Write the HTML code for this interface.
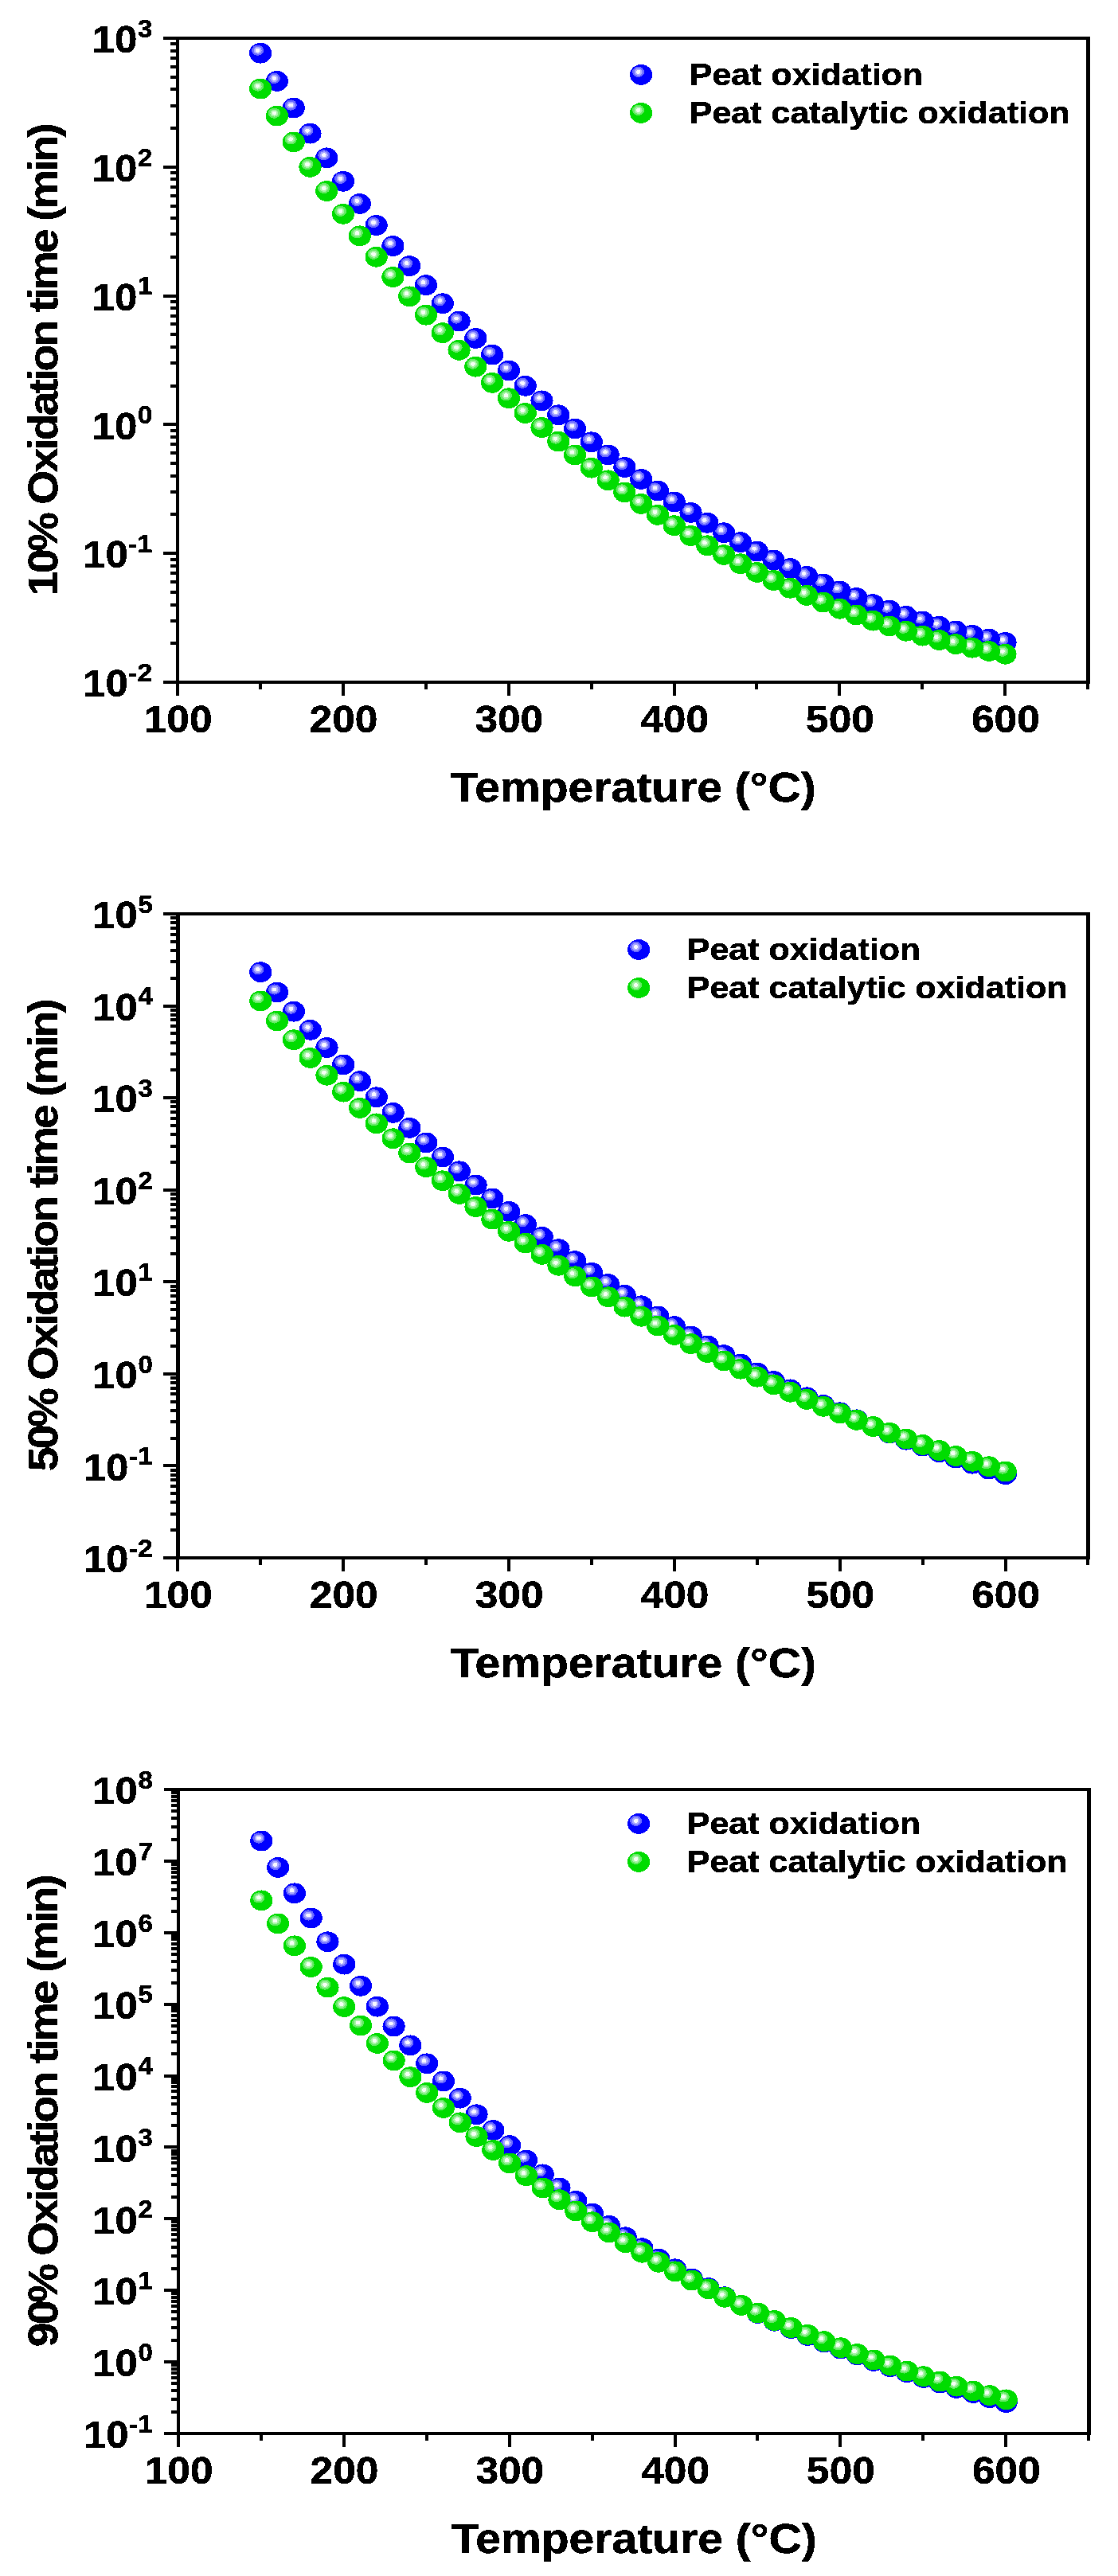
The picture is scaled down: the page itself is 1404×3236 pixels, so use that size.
<!DOCTYPE html>
<html lang="en"><head><meta charset="utf-8"><title>Peat oxidation time vs temperature</title>
<style>html,body{margin:0;padding:0;background:#fff}body{width:1404px;height:3236px;overflow:hidden}svg{display:block}text{font-family:"Liberation Sans",sans-serif;font-weight:bold;fill:#000;stroke:#000;stroke-width:0.5px}</style></head><body>
<svg width="1404" height="3236" viewBox="0 0 1404 3236">
<rect width="1404" height="3236" fill="#fff"/>
<defs>
<g id="mb" shape-rendering="crispEdges"><ellipse rx="14.1" ry="12.9" fill="#0000ff"/><ellipse cx="-3.5" cy="-3.5" rx="7.5" ry="6.6" fill="#6c6cff"/><ellipse cx="-3.5" cy="-3.5" rx="5" ry="4.5" fill="#aaaaff"/><ellipse cx="-3.5" cy="-3.5" rx="2.8" ry="2.5" fill="#f8f8ff"/></g>
<g id="mg" shape-rendering="crispEdges"><ellipse rx="14.1" ry="12.9" fill="#00dc00"/><ellipse cx="-3.5" cy="-3.5" rx="7.5" ry="6.6" fill="#66ea66"/><ellipse cx="-3.5" cy="-3.5" rx="5" ry="4.5" fill="#a8f3a8"/><ellipse cx="-3.5" cy="-3.5" rx="2.8" ry="2.5" fill="#f6fff6"/></g>
<filter id="nf" x="0" y="0" width="100%" height="100%" filterUnits="userSpaceOnUse" color-interpolation-filters="sRGB"><feComponentTransfer><feFuncA type="discrete" tableValues="0 1"/></feComponentTransfer></filter>
</defs>
<g>
<use href="#mb" x="1262.47" y="807.05"/>
<use href="#mb" x="1241.69" y="802.63"/>
<use href="#mb" x="1220.9" y="797.77"/>
<use href="#mb" x="1200.12" y="792.46"/>
<use href="#mb" x="1179.33" y="786.7"/>
<use href="#mb" x="1158.55" y="780.49"/>
<use href="#mb" x="1137.76" y="773.81"/>
<use href="#mb" x="1116.97" y="766.68"/>
<use href="#mb" x="1096.19" y="759.08"/>
<use href="#mb" x="1075.4" y="751.01"/>
<use href="#mb" x="1054.62" y="742.47"/>
<use href="#mb" x="1033.83" y="733.45"/>
<use href="#mb" x="1013.05" y="723.96"/>
<use href="#mb" x="992.26" y="713.98"/>
<use href="#mb" x="971.48" y="703.53"/>
<use href="#mb" x="950.69" y="692.58"/>
<use href="#mb" x="929.91" y="681.15"/>
<use href="#mb" x="909.12" y="669.22"/>
<use href="#mb" x="888.33" y="656.8"/>
<use href="#mb" x="867.55" y="643.87"/>
<use href="#mb" x="846.76" y="630.43"/>
<use href="#mb" x="825.98" y="616.47"/>
<use href="#mb" x="805.19" y="601.99"/>
<use href="#mb" x="784.41" y="586.97"/>
<use href="#mb" x="763.62" y="571.41"/>
<use href="#mb" x="742.84" y="555.28"/>
<use href="#mb" x="722.05" y="538.57"/>
<use href="#mb" x="701.27" y="521.27"/>
<use href="#mb" x="680.48" y="503.35"/>
<use href="#mb" x="659.69" y="484.79"/>
<use href="#mb" x="638.91" y="465.55"/>
<use href="#mb" x="618.12" y="445.62"/>
<use href="#mb" x="597.34" y="424.95"/>
<use href="#mb" x="576.55" y="403.5"/>
<use href="#mb" x="555.77" y="381.24"/>
<use href="#mb" x="534.98" y="358.12"/>
<use href="#mb" x="514.2" y="334.08"/>
<use href="#mb" x="493.41" y="309.08"/>
<use href="#mb" x="472.63" y="283.07"/>
<use href="#mb" x="451.84" y="255.98"/>
<use href="#mb" x="431.05" y="227.76"/>
<use href="#mb" x="410.27" y="198.33"/>
<use href="#mb" x="389.48" y="167.62"/>
<use href="#mb" x="368.7" y="135.54"/>
<use href="#mb" x="347.91" y="101.96"/>
<use href="#mb" x="327.13" y="66.69"/>
<use href="#mg" x="1262.47" y="821.71"/>
<use href="#mg" x="1241.69" y="817.9"/>
<use href="#mg" x="1220.9" y="813.69"/>
<use href="#mg" x="1200.12" y="809.09"/>
<use href="#mg" x="1179.33" y="804.06"/>
<use href="#mg" x="1158.55" y="798.62"/>
<use href="#mg" x="1137.76" y="792.74"/>
<use href="#mg" x="1116.97" y="786.42"/>
<use href="#mg" x="1096.19" y="779.65"/>
<use href="#mg" x="1075.4" y="772.42"/>
<use href="#mg" x="1054.62" y="764.72"/>
<use href="#mg" x="1033.83" y="756.55"/>
<use href="#mg" x="1013.05" y="747.89"/>
<use href="#mg" x="992.26" y="738.73"/>
<use href="#mg" x="971.48" y="729.08"/>
<use href="#mg" x="950.69" y="718.91"/>
<use href="#mg" x="929.91" y="708.23"/>
<use href="#mg" x="909.12" y="697.02"/>
<use href="#mg" x="888.33" y="685.29"/>
<use href="#mg" x="867.55" y="673.01"/>
<use href="#mg" x="846.76" y="660.19"/>
<use href="#mg" x="825.98" y="646.82"/>
<use href="#mg" x="805.19" y="632.89"/>
<use href="#mg" x="784.41" y="618.4"/>
<use href="#mg" x="763.62" y="603.33"/>
<use href="#mg" x="742.84" y="587.67"/>
<use href="#mg" x="722.05" y="571.43"/>
<use href="#mg" x="701.27" y="554.58"/>
<use href="#mg" x="680.48" y="537.11"/>
<use href="#mg" x="659.69" y="519.01"/>
<use href="#mg" x="638.91" y="500.26"/>
<use href="#mg" x="618.12" y="480.83"/>
<use href="#mg" x="597.34" y="460.69"/>
<use href="#mg" x="576.55" y="439.82"/>
<use href="#mg" x="555.77" y="418.17"/>
<use href="#mg" x="534.98" y="395.7"/>
<use href="#mg" x="514.2" y="372.35"/>
<use href="#mg" x="493.41" y="348.05"/>
<use href="#mg" x="472.63" y="322.75"/>
<use href="#mg" x="451.84" y="296.35"/>
<use href="#mg" x="431.05" y="268.79"/>
<use href="#mg" x="410.27" y="239.98"/>
<use href="#mg" x="389.48" y="209.86"/>
<use href="#mg" x="368.7" y="178.39"/>
<use href="#mg" x="347.91" y="145.59"/>
<use href="#mg" x="327.13" y="111.56"/>
<path d="M221 46H1369V50H221ZM221 855H1369V859H221ZM221 46H225V859H221ZM1364 46H1369V859H1364ZM205 855H222V859H205ZM214 806H222V810H214ZM214 778H222V782H214ZM214 758H222V762H214ZM214 742H222V746H214ZM214 729H222V733H214ZM214 718H222V722H214ZM214 709H222V713H214ZM214 701H222V705H214ZM205 693H222V697H205ZM214 644H222V648H214ZM214 616H222V620H214ZM214 596H222V600H214ZM214 580H222V584H214ZM214 567H222V571H214ZM214 556H222V560H214ZM214 547H222V551H214ZM214 539H222V543H214ZM205 531H222V535H205ZM214 483H222V487H214ZM214 454H222V458H214ZM214 434H222V438H214ZM214 418H222V422H214ZM214 405H222V409H214ZM214 395H222V399H214ZM214 385H222V389H214ZM214 377H222V381H214ZM205 370H222V374H205ZM214 321H222V325H214ZM214 292H222V296H214ZM214 272H222V276H214ZM214 257H222V261H214ZM214 244H222V248H214ZM214 233H222V237H214ZM214 223H222V227H214ZM214 215H222V219H214ZM205 208H222V212H205ZM214 159H222V163H214ZM214 131H222V135H214ZM214 110H222V114H214ZM214 95H222V99H214ZM214 82H222V86H214ZM214 71H222V75H214ZM214 62H222V66H214ZM214 53H222V57H214ZM205 46H222V50H205ZM221 857H225V874H221ZM325 857H329V866H325ZM429 857H433V874H429ZM533 857H537V866H533ZM637 857H641V874H637ZM741 857H745V866H741ZM845 857H849V874H845ZM948 857H952V866H948ZM1052 857H1056V874H1052ZM1156 857H1160V866H1156ZM1260 857H1264V874H1260ZM1364 857H1368V866H1364Z" fill="#000" shape-rendering="crispEdges"/>
<use href="#mb" x="805.1" y="93.9"/><use href="#mg" x="805.1" y="141.9"/>
</g>
<g>
<use href="#mb" x="1262.67" y="1852.21"/>
<use href="#mb" x="1241.89" y="1845.57"/>
<use href="#mb" x="1221.1" y="1838.69"/>
<use href="#mb" x="1200.32" y="1831.57"/>
<use href="#mb" x="1179.53" y="1824.2"/>
<use href="#mb" x="1158.75" y="1816.57"/>
<use href="#mb" x="1137.96" y="1808.68"/>
<use href="#mb" x="1117.17" y="1800.51"/>
<use href="#mb" x="1096.39" y="1792.07"/>
<use href="#mb" x="1075.6" y="1783.33"/>
<use href="#mb" x="1054.82" y="1774.3"/>
<use href="#mb" x="1034.03" y="1764.97"/>
<use href="#mb" x="1013.25" y="1755.32"/>
<use href="#mb" x="992.46" y="1745.35"/>
<use href="#mb" x="971.68" y="1735.06"/>
<use href="#mb" x="950.89" y="1724.44"/>
<use href="#mb" x="930.11" y="1713.48"/>
<use href="#mb" x="909.32" y="1702.17"/>
<use href="#mb" x="888.53" y="1690.51"/>
<use href="#mb" x="867.75" y="1678.5"/>
<use href="#mb" x="846.96" y="1666.13"/>
<use href="#mb" x="826.18" y="1653.39"/>
<use href="#mb" x="805.39" y="1640.29"/>
<use href="#mb" x="784.61" y="1626.81"/>
<use href="#mb" x="763.82" y="1612.97"/>
<use href="#mb" x="743.04" y="1598.74"/>
<use href="#mb" x="722.25" y="1584.14"/>
<use href="#mb" x="701.47" y="1569.16"/>
<use href="#mb" x="680.68" y="1553.81"/>
<use href="#mb" x="659.89" y="1538.07"/>
<use href="#mb" x="639.11" y="1521.95"/>
<use href="#mb" x="618.32" y="1505.44"/>
<use href="#mb" x="597.54" y="1488.55"/>
<use href="#mb" x="576.75" y="1471.26"/>
<use href="#mb" x="555.97" y="1453.56"/>
<use href="#mb" x="535.18" y="1435.44"/>
<use href="#mb" x="514.4" y="1416.88"/>
<use href="#mb" x="493.61" y="1397.84"/>
<use href="#mb" x="472.83" y="1378.29"/>
<use href="#mb" x="452.04" y="1358.19"/>
<use href="#mb" x="431.25" y="1337.46"/>
<use href="#mb" x="410.47" y="1316.03"/>
<use href="#mb" x="389.68" y="1293.8"/>
<use href="#mb" x="368.9" y="1270.67"/>
<use href="#mb" x="348.11" y="1246.5"/>
<use href="#mb" x="327.33" y="1221.19"/>
<use href="#mg" x="1262.67" y="1848.54"/>
<use href="#mg" x="1241.89" y="1842.25"/>
<use href="#mg" x="1221.1" y="1835.75"/>
<use href="#mg" x="1200.32" y="1829.02"/>
<use href="#mg" x="1179.53" y="1822.07"/>
<use href="#mg" x="1158.75" y="1814.89"/>
<use href="#mg" x="1137.96" y="1807.48"/>
<use href="#mg" x="1117.17" y="1799.84"/>
<use href="#mg" x="1096.39" y="1791.95"/>
<use href="#mg" x="1075.6" y="1783.82"/>
<use href="#mg" x="1054.82" y="1775.44"/>
<use href="#mg" x="1034.03" y="1766.81"/>
<use href="#mg" x="1013.25" y="1757.93"/>
<use href="#mg" x="992.46" y="1748.78"/>
<use href="#mg" x="971.68" y="1739.36"/>
<use href="#mg" x="950.89" y="1729.68"/>
<use href="#mg" x="930.11" y="1719.71"/>
<use href="#mg" x="909.32" y="1709.47"/>
<use href="#mg" x="888.53" y="1698.93"/>
<use href="#mg" x="867.75" y="1688.1"/>
<use href="#mg" x="846.96" y="1676.97"/>
<use href="#mg" x="826.18" y="1665.52"/>
<use href="#mg" x="805.39" y="1653.75"/>
<use href="#mg" x="784.61" y="1641.66"/>
<use href="#mg" x="763.82" y="1629.22"/>
<use href="#mg" x="743.04" y="1616.44"/>
<use href="#mg" x="722.25" y="1603.29"/>
<use href="#mg" x="701.47" y="1589.77"/>
<use href="#mg" x="680.68" y="1575.85"/>
<use href="#mg" x="659.89" y="1561.54"/>
<use href="#mg" x="639.11" y="1546.8"/>
<use href="#mg" x="618.32" y="1531.63"/>
<use href="#mg" x="597.54" y="1516"/>
<use href="#mg" x="576.75" y="1499.89"/>
<use href="#mg" x="555.97" y="1483.29"/>
<use href="#mg" x="535.18" y="1466.16"/>
<use href="#mg" x="514.4" y="1448.48"/>
<use href="#mg" x="493.61" y="1430.23"/>
<use href="#mg" x="472.83" y="1411.36"/>
<use href="#mg" x="452.04" y="1391.85"/>
<use href="#mg" x="431.25" y="1371.65"/>
<use href="#mg" x="410.47" y="1350.7"/>
<use href="#mg" x="389.68" y="1328.93"/>
<use href="#mg" x="368.9" y="1306.24"/>
<use href="#mg" x="348.11" y="1282.48"/>
<use href="#mg" x="327.33" y="1257.44"/>
<path d="M221 1146H1369V1150H221ZM221 1955H1369V1959H221ZM221 1146H226V1959H221ZM1364 1146H1369V1959H1364ZM205 1955H222V1959H205ZM214 1920H222V1924H214ZM214 1900H222V1904H214ZM214 1885H222V1889H214ZM214 1874H222V1878H214ZM214 1865H222V1869H214ZM214 1857H222V1861H214ZM214 1851H222V1855H214ZM214 1845H222V1849H214ZM205 1839H222V1843H205ZM214 1805H222V1809H214ZM214 1784H222V1788H214ZM214 1770H222V1774H214ZM214 1759H222V1763H214ZM214 1749H222V1753H214ZM214 1742H222V1746H214ZM214 1735H222V1739H214ZM214 1729H222V1733H214ZM205 1724H222V1728H205ZM214 1689H222V1693H214ZM214 1669H222V1673H214ZM214 1654H222V1658H214ZM214 1643H222V1647H214ZM214 1634H222V1638H214ZM214 1626H222V1630H214ZM214 1619H222V1623H214ZM214 1614H222V1618H214ZM205 1608H222V1612H205ZM214 1573H222V1577H214ZM214 1553H222V1557H214ZM214 1539H222V1543H214ZM214 1528H222V1532H214ZM214 1518H222V1522H214ZM214 1511H222V1515H214ZM214 1504H222V1508H214ZM214 1498H222V1502H214ZM205 1493H222V1497H205ZM214 1458H222V1462H214ZM214 1438H222V1442H214ZM214 1423H222V1427H214ZM214 1412H222V1416H214ZM214 1403H222V1407H214ZM214 1395H222V1399H214ZM214 1388H222V1392H214ZM214 1382H222V1386H214ZM205 1377H222V1381H205ZM214 1342H222V1346H214ZM214 1322H222V1326H214ZM214 1308H222V1312H214ZM214 1296H222V1300H214ZM214 1287H222V1291H214ZM214 1279H222V1283H214ZM214 1273H222V1277H214ZM214 1267H222V1271H214ZM205 1262H222V1266H205ZM214 1227H222V1231H214ZM214 1206H222V1210H214ZM214 1192H222V1196H214ZM214 1181H222V1185H214ZM214 1172H222V1176H214ZM214 1164H222V1168H214ZM214 1157H222V1161H214ZM214 1151H222V1155H214ZM205 1146H222V1150H205ZM221 1957H225V1974H221ZM325 1957H329V1966H325ZM429 1957H433V1974H429ZM533 1957H537V1966H533ZM637 1957H641V1974H637ZM741 1957H745V1966H741ZM845 1957H849V1974H845ZM949 1957H953V1966H949ZM1053 1957H1057V1974H1053ZM1157 1957H1161V1966H1157ZM1261 1957H1265V1974H1261ZM1364 1957H1368V1966H1364Z" fill="#000" shape-rendering="crispEdges"/>
<use href="#mb" x="802.1" y="1193"/><use href="#mg" x="802.1" y="1241"/>
</g>
<g>
<use href="#mb" x="1263.67" y="3018.01"/>
<use href="#mb" x="1242.89" y="3012.09"/>
<use href="#mb" x="1222.1" y="3006.04"/>
<use href="#mb" x="1201.32" y="2999.85"/>
<use href="#mb" x="1180.53" y="2993.49"/>
<use href="#mb" x="1159.75" y="2986.94"/>
<use href="#mb" x="1138.96" y="2980.18"/>
<use href="#mb" x="1118.17" y="2973.19"/>
<use href="#mb" x="1097.39" y="2965.94"/>
<use href="#mb" x="1076.6" y="2958.42"/>
<use href="#mb" x="1055.82" y="2950.59"/>
<use href="#mb" x="1035.03" y="2942.43"/>
<use href="#mb" x="1014.25" y="2933.93"/>
<use href="#mb" x="993.46" y="2925.04"/>
<use href="#mb" x="972.68" y="2915.76"/>
<use href="#mb" x="951.89" y="2906.05"/>
<use href="#mb" x="931.11" y="2895.88"/>
<use href="#mb" x="910.32" y="2885.25"/>
<use href="#mb" x="889.53" y="2874.12"/>
<use href="#mb" x="868.75" y="2862.47"/>
<use href="#mb" x="847.96" y="2850.28"/>
<use href="#mb" x="827.18" y="2837.54"/>
<use href="#mb" x="806.39" y="2824.22"/>
<use href="#mb" x="785.61" y="2810.3"/>
<use href="#mb" x="764.82" y="2795.78"/>
<use href="#mb" x="744.04" y="2780.63"/>
<use href="#mb" x="723.25" y="2764.85"/>
<use href="#mb" x="702.47" y="2748.43"/>
<use href="#mb" x="681.68" y="2731.35"/>
<use href="#mb" x="660.89" y="2713.6"/>
<use href="#mb" x="640.11" y="2695.18"/>
<use href="#mb" x="619.32" y="2676.07"/>
<use href="#mb" x="598.54" y="2656.25"/>
<use href="#mb" x="577.75" y="2635.7"/>
<use href="#mb" x="556.97" y="2614.4"/>
<use href="#mb" x="536.18" y="2592.3"/>
<use href="#mb" x="515.4" y="2569.36"/>
<use href="#mb" x="494.61" y="2545.51"/>
<use href="#mb" x="473.83" y="2520.67"/>
<use href="#mb" x="453.04" y="2494.75"/>
<use href="#mb" x="432.25" y="2467.64"/>
<use href="#mb" x="411.47" y="2439.25"/>
<use href="#mb" x="390.68" y="2409.49"/>
<use href="#mb" x="369.9" y="2378.34"/>
<use href="#mb" x="349.11" y="2345.92"/>
<use href="#mb" x="328.33" y="2312.53"/>
<use href="#mg" x="1263.67" y="3014.4"/>
<use href="#mg" x="1242.89" y="3009.07"/>
<use href="#mg" x="1222.1" y="3003.48"/>
<use href="#mg" x="1201.32" y="2997.65"/>
<use href="#mg" x="1180.53" y="2991.55"/>
<use href="#mg" x="1159.75" y="2985.2"/>
<use href="#mg" x="1138.96" y="2978.57"/>
<use href="#mg" x="1118.17" y="2971.67"/>
<use href="#mg" x="1097.39" y="2964.48"/>
<use href="#mg" x="1076.6" y="2957"/>
<use href="#mg" x="1055.82" y="2949.22"/>
<use href="#mg" x="1035.03" y="2941.14"/>
<use href="#mg" x="1014.25" y="2932.74"/>
<use href="#mg" x="993.46" y="2924.03"/>
<use href="#mg" x="972.68" y="2914.98"/>
<use href="#mg" x="951.89" y="2905.6"/>
<use href="#mg" x="931.11" y="2895.88"/>
<use href="#mg" x="910.32" y="2885.8"/>
<use href="#mg" x="889.53" y="2875.36"/>
<use href="#mg" x="868.75" y="2864.55"/>
<use href="#mg" x="847.96" y="2853.35"/>
<use href="#mg" x="827.18" y="2841.76"/>
<use href="#mg" x="806.39" y="2829.76"/>
<use href="#mg" x="785.61" y="2817.35"/>
<use href="#mg" x="764.82" y="2804.5"/>
<use href="#mg" x="744.04" y="2791.21"/>
<use href="#mg" x="723.25" y="2777.45"/>
<use href="#mg" x="702.47" y="2763.2"/>
<use href="#mg" x="681.68" y="2748.46"/>
<use href="#mg" x="660.89" y="2733.19"/>
<use href="#mg" x="640.11" y="2717.37"/>
<use href="#mg" x="619.32" y="2700.97"/>
<use href="#mg" x="598.54" y="2683.96"/>
<use href="#mg" x="577.75" y="2666.31"/>
<use href="#mg" x="556.97" y="2647.98"/>
<use href="#mg" x="536.18" y="2628.93"/>
<use href="#mg" x="515.4" y="2609.11"/>
<use href="#mg" x="494.61" y="2588.46"/>
<use href="#mg" x="473.83" y="2566.95"/>
<use href="#mg" x="453.04" y="2544.5"/>
<use href="#mg" x="432.25" y="2521.07"/>
<use href="#mg" x="411.47" y="2496.59"/>
<use href="#mg" x="390.68" y="2471.01"/>
<use href="#mg" x="369.9" y="2444.3"/>
<use href="#mg" x="349.11" y="2416.42"/>
<use href="#mg" x="328.33" y="2387.39"/>
<path d="M222 2246H1370V2250H222ZM222 3055H1370V3059H222ZM222 2246H226V3059H222ZM1365 2246H1370V3059H1365ZM206 3055H223V3059H206ZM215 3028H223V3032H215ZM215 3012H223V3016H215ZM215 3001H223V3005H215ZM215 2992H223V2996H215ZM215 2985H223V2989H215ZM215 2979H223V2983H215ZM215 2974H223V2978H215ZM215 2969H223V2973H215ZM206 2965H223V2969H206ZM215 2938H223V2942H215ZM215 2922H223V2926H215ZM215 2911H223V2915H215ZM215 2902H223V2906H215ZM215 2895H223V2899H215ZM215 2889H223V2893H215ZM215 2884H223V2888H215ZM215 2879H223V2883H215ZM206 2875H223V2879H206ZM215 2848H223V2852H215ZM215 2832H223V2836H215ZM215 2821H223V2825H215ZM215 2812H223V2816H215ZM215 2805H223V2809H215ZM215 2799H223V2803H215ZM215 2794H223V2798H215ZM215 2789H223V2793H215ZM206 2785H223V2789H206ZM215 2758H223V2762H215ZM215 2742H223V2746H215ZM215 2731H223V2735H215ZM215 2723H223V2727H215ZM215 2715H223V2719H215ZM215 2709H223V2713H215ZM215 2704H223V2708H215ZM215 2700H223V2704H215ZM206 2695H223V2699H206ZM215 2668H223V2672H215ZM215 2653H223V2657H215ZM215 2641H223V2645H215ZM215 2633H223V2637H215ZM215 2625H223V2629H215ZM215 2619H223V2623H215ZM215 2614H223V2618H215ZM215 2610H223V2614H215ZM206 2606H223V2610H206ZM215 2578H223V2582H215ZM215 2563H223V2567H215ZM215 2551H223V2555H215ZM215 2543H223V2547H215ZM215 2536H223V2540H215ZM215 2530H223V2534H215ZM215 2524H223V2528H215ZM215 2520H223V2524H215ZM206 2516H223V2520H206ZM215 2489H223V2493H215ZM215 2473H223V2477H215ZM215 2462H223V2466H215ZM215 2453H223V2457H215ZM215 2446H223V2450H215ZM215 2440H223V2444H215ZM215 2434H223V2438H215ZM215 2430H223V2434H215ZM206 2426H223V2430H206ZM215 2399H223V2403H215ZM215 2383H223V2387H215ZM215 2372H223V2376H215ZM215 2363H223V2367H215ZM215 2356H223V2360H215ZM215 2350H223V2354H215ZM215 2345H223V2349H215ZM215 2340H223V2344H215ZM206 2336H223V2340H206ZM215 2309H223V2313H215ZM215 2293H223V2297H215ZM215 2282H223V2286H215ZM215 2273H223V2277H215ZM215 2266H223V2270H215ZM215 2260H223V2264H215ZM215 2255H223V2259H215ZM215 2250H223V2254H215ZM206 2246H223V2250H206ZM222 3057H226V3074H222ZM326 3057H330V3066H326ZM430 3057H434V3074H430ZM534 3057H538V3066H534ZM638 3057H642V3074H638ZM742 3057H746V3066H742ZM846 3057H850V3074H846ZM949 3057H953V3066H949ZM1053 3057H1057V3074H1053ZM1157 3057H1161V3066H1157ZM1261 3057H1265V3074H1261ZM1365 3057H1369V3066H1365Z" fill="#000" shape-rendering="crispEdges"/>
<use href="#mb" x="802.1" y="2290.9"/><use href="#mg" x="802.1" y="2338.9"/>
</g>
<g filter="url(#nf)">
<text x="104.3" y="875.2" font-size="47.5" textLength="56.6" lengthAdjust="spacingAndGlyphs">10</text>
<text x="161.3" y="855.8" font-size="31.3" textLength="30" lengthAdjust="spacingAndGlyphs">-2</text>
<text x="104.3" y="713.4" font-size="47.5" textLength="56.6" lengthAdjust="spacingAndGlyphs">10</text>
<text x="161.3" y="694" font-size="31.3" textLength="30" lengthAdjust="spacingAndGlyphs">-1</text>
<text x="115.6" y="551.6" font-size="47.5" textLength="56.6" lengthAdjust="spacingAndGlyphs">10</text>
<text x="173" y="532.2" font-size="31.3" textLength="18.3" lengthAdjust="spacingAndGlyphs">0</text>
<text x="115.6" y="389.8" font-size="47.5" textLength="56.6" lengthAdjust="spacingAndGlyphs">10</text>
<text x="173" y="370.4" font-size="31.3" textLength="18.3" lengthAdjust="spacingAndGlyphs">1</text>
<text x="115.6" y="228" font-size="47.5" textLength="56.6" lengthAdjust="spacingAndGlyphs">10</text>
<text x="173" y="208.6" font-size="31.3" textLength="18.3" lengthAdjust="spacingAndGlyphs">2</text>
<text x="115.6" y="66.2" font-size="47.5" textLength="56.6" lengthAdjust="spacingAndGlyphs">10</text>
<text x="173" y="46.8" font-size="31.3" textLength="18.3" lengthAdjust="spacingAndGlyphs">3</text>
<text x="223.6" y="919.8" text-anchor="middle" font-size="47.5" textLength="85.8" lengthAdjust="spacingAndGlyphs">100</text>
<text x="431.45" y="919.8" text-anchor="middle" font-size="47.5" textLength="85.8" lengthAdjust="spacingAndGlyphs">200</text>
<text x="639.31" y="919.8" text-anchor="middle" font-size="47.5" textLength="85.8" lengthAdjust="spacingAndGlyphs">300</text>
<text x="847.16" y="919.8" text-anchor="middle" font-size="47.5" textLength="85.8" lengthAdjust="spacingAndGlyphs">400</text>
<text x="1055.02" y="919.8" text-anchor="middle" font-size="47.5" textLength="85.8" lengthAdjust="spacingAndGlyphs">500</text>
<text x="1262.87" y="919.8" text-anchor="middle" font-size="47.5" textLength="85.8" lengthAdjust="spacingAndGlyphs">600</text>
<text x="565.7" y="1007" font-size="51" textLength="459" lengthAdjust="spacingAndGlyphs">Temperature (°C)</text>
<text transform="translate(72 748.3) rotate(-90) scale(1.09 1)" font-size="51" textLength="544.95" lengthAdjust="spacing">10% Oxidation time (min)</text>
<text x="865.8" y="107" font-size="39.1" textLength="293.5" lengthAdjust="spacingAndGlyphs">Peat oxidation</text>
<text x="865.8" y="155" font-size="39.1" textLength="477.7" lengthAdjust="spacingAndGlyphs">Peat catalytic oxidation</text>
<text x="104.8" y="1975.2" font-size="47.5" textLength="56.6" lengthAdjust="spacingAndGlyphs">10</text>
<text x="161.8" y="1955.8" font-size="31.3" textLength="30" lengthAdjust="spacingAndGlyphs">-2</text>
<text x="104.8" y="1859.63" font-size="47.5" textLength="56.6" lengthAdjust="spacingAndGlyphs">10</text>
<text x="161.8" y="1840.23" font-size="31.3" textLength="30" lengthAdjust="spacingAndGlyphs">-1</text>
<text x="116.1" y="1744.06" font-size="47.5" textLength="56.6" lengthAdjust="spacingAndGlyphs">10</text>
<text x="173.5" y="1724.66" font-size="31.3" textLength="18.3" lengthAdjust="spacingAndGlyphs">0</text>
<text x="116.1" y="1628.49" font-size="47.5" textLength="56.6" lengthAdjust="spacingAndGlyphs">10</text>
<text x="173.5" y="1609.09" font-size="31.3" textLength="18.3" lengthAdjust="spacingAndGlyphs">1</text>
<text x="116.1" y="1512.91" font-size="47.5" textLength="56.6" lengthAdjust="spacingAndGlyphs">10</text>
<text x="173.5" y="1493.51" font-size="31.3" textLength="18.3" lengthAdjust="spacingAndGlyphs">2</text>
<text x="116.1" y="1397.34" font-size="47.5" textLength="56.6" lengthAdjust="spacingAndGlyphs">10</text>
<text x="173.5" y="1377.94" font-size="31.3" textLength="18.3" lengthAdjust="spacingAndGlyphs">3</text>
<text x="116.1" y="1281.77" font-size="47.5" textLength="56.6" lengthAdjust="spacingAndGlyphs">10</text>
<text x="173.5" y="1262.37" font-size="31.3" textLength="18.3" lengthAdjust="spacingAndGlyphs">4</text>
<text x="116.1" y="1166.2" font-size="47.5" textLength="56.6" lengthAdjust="spacingAndGlyphs">10</text>
<text x="173.5" y="1146.8" font-size="31.3" textLength="18.3" lengthAdjust="spacingAndGlyphs">5</text>
<text x="223.9" y="2019.8" text-anchor="middle" font-size="47.5" textLength="85.8" lengthAdjust="spacingAndGlyphs">100</text>
<text x="431.75" y="2019.8" text-anchor="middle" font-size="47.5" textLength="85.8" lengthAdjust="spacingAndGlyphs">200</text>
<text x="639.61" y="2019.8" text-anchor="middle" font-size="47.5" textLength="85.8" lengthAdjust="spacingAndGlyphs">300</text>
<text x="847.46" y="2019.8" text-anchor="middle" font-size="47.5" textLength="85.8" lengthAdjust="spacingAndGlyphs">400</text>
<text x="1055.32" y="2019.8" text-anchor="middle" font-size="47.5" textLength="85.8" lengthAdjust="spacingAndGlyphs">500</text>
<text x="1263.17" y="2019.8" text-anchor="middle" font-size="47.5" textLength="85.8" lengthAdjust="spacingAndGlyphs">600</text>
<text x="566" y="2107" font-size="51" textLength="459" lengthAdjust="spacingAndGlyphs">Temperature (°C)</text>
<text transform="translate(72 1848.3) rotate(-90) scale(1.09 1)" font-size="51" textLength="544.95" lengthAdjust="spacing">50% Oxidation time (min)</text>
<text x="862.8" y="1206.1" font-size="39.1" textLength="293.5" lengthAdjust="spacingAndGlyphs">Peat oxidation</text>
<text x="862.8" y="1254.1" font-size="39.1" textLength="477.7" lengthAdjust="spacingAndGlyphs">Peat catalytic oxidation</text>
<text x="104.9" y="3075.2" font-size="47.5" textLength="56.6" lengthAdjust="spacingAndGlyphs">10</text>
<text x="161.9" y="3055.8" font-size="31.3" textLength="30" lengthAdjust="spacingAndGlyphs">-1</text>
<text x="116.2" y="2985.31" font-size="47.5" textLength="56.6" lengthAdjust="spacingAndGlyphs">10</text>
<text x="173.6" y="2965.91" font-size="31.3" textLength="18.3" lengthAdjust="spacingAndGlyphs">0</text>
<text x="116.2" y="2895.42" font-size="47.5" textLength="56.6" lengthAdjust="spacingAndGlyphs">10</text>
<text x="173.6" y="2876.02" font-size="31.3" textLength="18.3" lengthAdjust="spacingAndGlyphs">1</text>
<text x="116.2" y="2805.53" font-size="47.5" textLength="56.6" lengthAdjust="spacingAndGlyphs">10</text>
<text x="173.6" y="2786.13" font-size="31.3" textLength="18.3" lengthAdjust="spacingAndGlyphs">2</text>
<text x="116.2" y="2715.64" font-size="47.5" textLength="56.6" lengthAdjust="spacingAndGlyphs">10</text>
<text x="173.6" y="2696.24" font-size="31.3" textLength="18.3" lengthAdjust="spacingAndGlyphs">3</text>
<text x="116.2" y="2625.76" font-size="47.5" textLength="56.6" lengthAdjust="spacingAndGlyphs">10</text>
<text x="173.6" y="2606.36" font-size="31.3" textLength="18.3" lengthAdjust="spacingAndGlyphs">4</text>
<text x="116.2" y="2535.87" font-size="47.5" textLength="56.6" lengthAdjust="spacingAndGlyphs">10</text>
<text x="173.6" y="2516.47" font-size="31.3" textLength="18.3" lengthAdjust="spacingAndGlyphs">5</text>
<text x="116.2" y="2445.98" font-size="47.5" textLength="56.6" lengthAdjust="spacingAndGlyphs">10</text>
<text x="173.6" y="2426.58" font-size="31.3" textLength="18.3" lengthAdjust="spacingAndGlyphs">6</text>
<text x="116.2" y="2356.09" font-size="47.5" textLength="56.6" lengthAdjust="spacingAndGlyphs">10</text>
<text x="173.6" y="2336.69" font-size="31.3" textLength="18.3" lengthAdjust="spacingAndGlyphs">7</text>
<text x="116.2" y="2266.2" font-size="47.5" textLength="56.6" lengthAdjust="spacingAndGlyphs">10</text>
<text x="173.6" y="2246.8" font-size="31.3" textLength="18.3" lengthAdjust="spacingAndGlyphs">8</text>
<text x="224.6" y="3119.8" text-anchor="middle" font-size="47.5" textLength="85.8" lengthAdjust="spacingAndGlyphs">100</text>
<text x="432.45" y="3119.8" text-anchor="middle" font-size="47.5" textLength="85.8" lengthAdjust="spacingAndGlyphs">200</text>
<text x="640.31" y="3119.8" text-anchor="middle" font-size="47.5" textLength="85.8" lengthAdjust="spacingAndGlyphs">300</text>
<text x="848.16" y="3119.8" text-anchor="middle" font-size="47.5" textLength="85.8" lengthAdjust="spacingAndGlyphs">400</text>
<text x="1056.02" y="3119.8" text-anchor="middle" font-size="47.5" textLength="85.8" lengthAdjust="spacingAndGlyphs">500</text>
<text x="1263.87" y="3119.8" text-anchor="middle" font-size="47.5" textLength="85.8" lengthAdjust="spacingAndGlyphs">600</text>
<text x="566.7" y="3207" font-size="51" textLength="459" lengthAdjust="spacingAndGlyphs">Temperature (°C)</text>
<text transform="translate(72 2948.3) rotate(-90) scale(1.09 1)" font-size="51" textLength="544.95" lengthAdjust="spacing">90% Oxidation time (min)</text>
<text x="862.8" y="2304" font-size="39.1" textLength="293.5" lengthAdjust="spacingAndGlyphs">Peat oxidation</text>
<text x="862.8" y="2352" font-size="39.1" textLength="477.7" lengthAdjust="spacingAndGlyphs">Peat catalytic oxidation</text>
</g>
</svg></body></html>
